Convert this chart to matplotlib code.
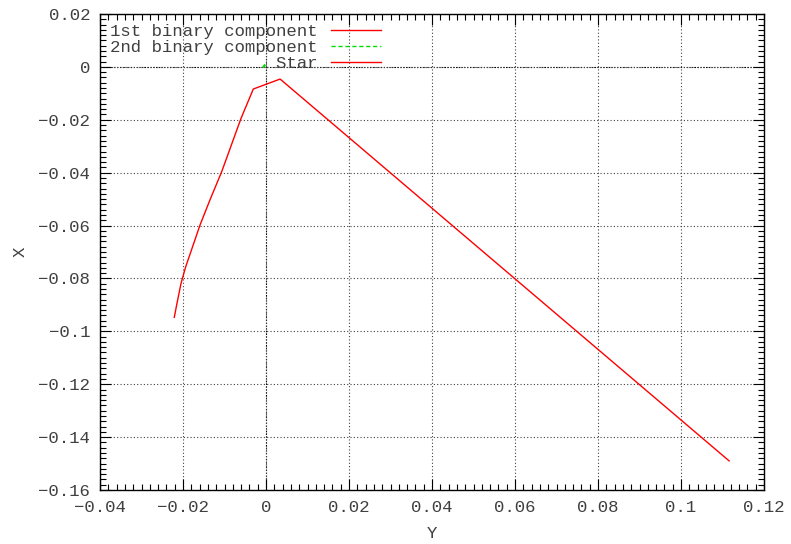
import matplotlib
matplotlib.use("Agg")
import matplotlib.pyplot as plt
from matplotlib.ticker import MultipleLocator, FuncFormatter

# Data
comp1_y = [-0.0221, -0.02145, -0.02048, -0.01935, -0.0159, -0.0135, -0.01067,
           -0.0060, -0.00306, 0.0034, 0.1116]
comp1_x = [-0.0947, -0.0894, -0.0819, -0.0756, -0.0598, -0.0503, -0.0396,
           -0.0194, -0.00837, -0.0046, -0.1490]
comp2_y = [-0.0007, -0.0002]
comp2_x = [-0.0003, 0.0009]
star_y = [0.0]
star_x = [0.0]

xticks = [-0.04, -0.02, 0, 0.02, 0.04, 0.06, 0.08, 0.1, 0.12]
yticks = [-0.16, -0.14, -0.12, -0.1, -0.08, -0.06, -0.04, -0.02, 0, 0.02]

FONT = "Liberation Mono"
TXT = "#404040"

fig = plt.figure(figsize=(7.91, 5.44), dpi=100)
ax = fig.add_axes([100 / 791, 54 / 544, 664 / 791, 476 / 544])

ax.plot(comp1_y, comp1_x, color="#ff0000", lw=1.0, label="1st binary component")
ax.plot(comp2_y, comp2_x, color="#00dd00", lw=1.6, ls=(0, (3, 2)), label="2nd binary component",
        zorder=3)
ax.plot(star_y, star_x, color="#ff0000", lw=1.0, label="                Star")

ax.set_xlim(-0.04, 0.12)
ax.set_ylim(-0.16, 0.02)
ax.set_xticks(xticks)
ax.set_yticks(yticks)
ax.xaxis.set_minor_locator(MultipleLocator(0.002))
ax.yaxis.set_minor_locator(MultipleLocator(0.002))

def fmt(v, pos):
    s = ("%g" % round(v, 6))
    if s == "-0":
        s = "0"
    return s.replace("-", "\u2212")

ax.xaxis.set_major_formatter(FuncFormatter(fmt))
ax.yaxis.set_major_formatter(FuncFormatter(fmt))

ax.tick_params(which="both", direction="in", top=True, right=True, colors="black",
               labelcolor=TXT, labelsize=12.5)
ax.tick_params(which="major", length=8, width=0.8, pad=7)
ax.tick_params(which="minor", length=4, width=0.8)
for lab in ax.get_xticklabels() + ax.get_yticklabels():
    lab.set_fontfamily(FONT)

ax.grid(True, which="major", color="#404040", ls=(0, (1, 2)), lw=0.8)
ax.axhline(0, color="black", ls=(0, (1, 1.5)), lw=0.8, zorder=1)
ax.axvline(0, color="black", ls=(0, (1, 1.5)), lw=0.8, zorder=1)
for sp in ax.spines.values():
    sp.set_linewidth(1.0)

ax.set_xlabel("Y", fontfamily=FONT, fontsize=12.5, color=TXT, labelpad=8)
ax.set_ylabel("X", fontfamily=FONT, fontsize=12.5, color=TXT, labelpad=8)

leg = ax.legend(loc="upper left", frameon=False, markerfirst=False,
                prop={"family": FONT, "size": 12.5}, handlelength=2.9,
                handletextpad=0.8, labelspacing=0.05, borderaxespad=0.35,
                borderpad=0.2)
for t in leg.get_texts():
    t.set_color(TXT)
leg.get_lines()[1].set_linewidth(1.0)

fig.savefig("out.png", dpi=100)
